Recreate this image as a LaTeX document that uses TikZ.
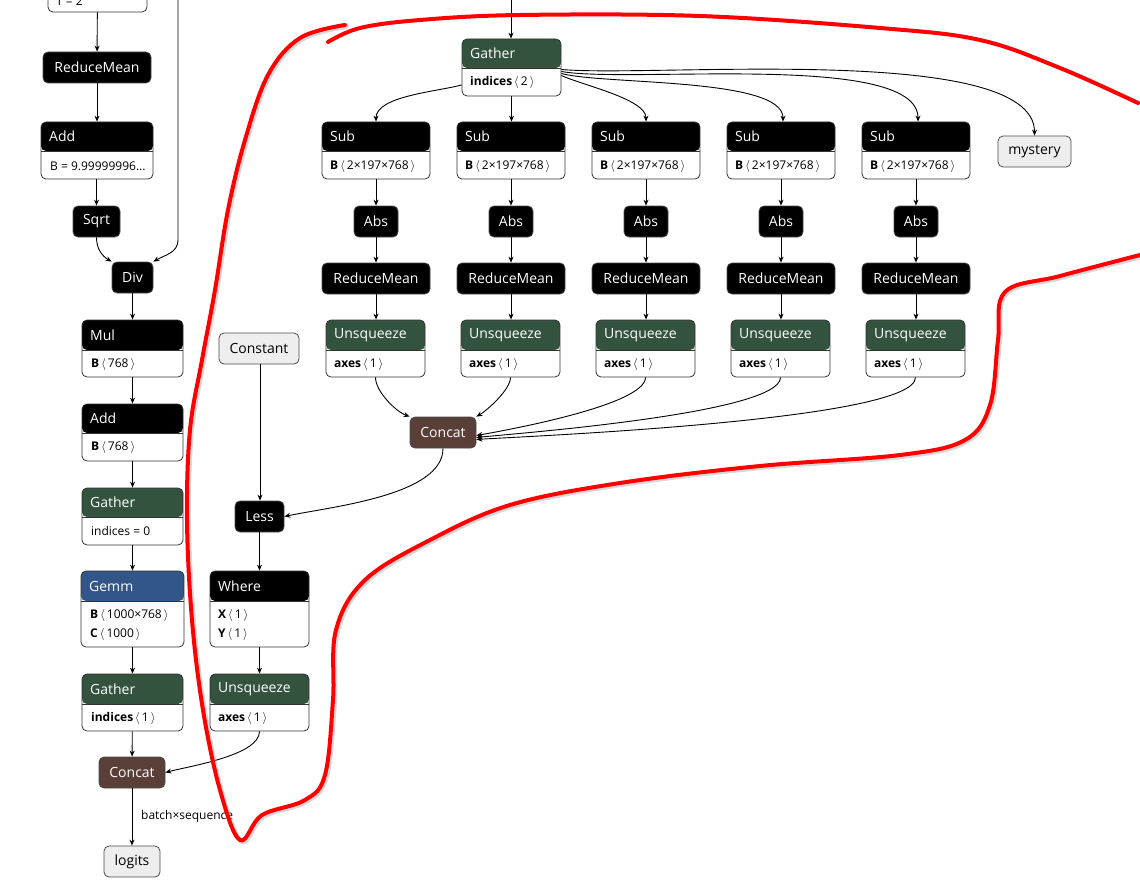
\documentclass[tikz,border=0pt]{standalone}
\usepackage{fontspec}
\setmainfont{Open Sans}
\usetikzlibrary{arrows.meta}
\definecolor{grn}{HTML}{33533F}
\definecolor{blu}{HTML}{32558A}
\definecolor{brn}{HTML}{5A3E38}
\definecolor{lgr}{HTML}{EEEEEE}
\tikzset{
 x=1pt,y=-1pt,
 e/.style={draw=black,line width=0.9pt,-{Stealth[length=6pt,width=5pt]}},
 hd/.style={draw=black!70,line width=0.8pt,rounded corners=5pt,fill=black,text=white,font=\fontsize{14}{16}\selectfont,inner sep=0pt},
 tt/.style={text=white,font=\fontsize{14}{16}\selectfont,anchor=west,inner sep=0pt},
 bt/.style={font=\fontsize{12}{14}\selectfont,anchor=west,inner sep=0pt},
}
\newcommand{\tbox}[8]{%
 \node[draw=black!80,line width=0.8pt,rounded corners=5pt,fill=white,inner sep=0pt,
   minimum width={(#4)-(#2)}, minimum height={(#5)-(#3)},
   path picture={\fill[#7] (path picture bounding box.north west) rectangle ([yshift={-((#6)-(#3))}]path picture bounding box.north east);\draw[black!80,line width=0.6pt]([yshift={-((#6)-(#3))}]path picture bounding box.north west) -- ([yshift={-((#6)-(#3))}]path picture bounding box.north east);}]
   (#1) at ({((#2)+(#4))/2},{((#3)+(#5))/2}) {};
 \node[tt] at ({(#2)+8},{((#3)+(#6))/2}) {#8};}
\newcommand{\hnode}[6]{%
 \node[hd,minimum width={(#4)-(#2)},minimum height={(#5)-(#3)}] (#1) at ({((#2)+(#4))/2},{((#3)+(#5))/2}) {#6};}
\newcommand{\gnode}[6]{%
 \node[hd,fill=lgr,text=black,draw=black!70,minimum width={(#4)-(#2)},minimum height={(#5)-(#3)}] (#1) at ({((#2)+(#4))/2},{((#3)+(#5))/2}) {#6};}
\newcommand{\ang}[1]{\,\ensuremath{\langle}\,#1\,\ensuremath{\rangle}}
\begin{document}
\begin{tikzpicture}
\useasboundingbox[fill=white] (0,0) rectangle (1140,888);
% ---- left column
\tbox{top}{48}{-40}{147}{12}{-12}{black}{}
\node[bt] at (56,1) {T = 2};
\hnode{rm0}{43}{52}{151}{83}{ReduceMean}
\tbox{add0}{41}{122}{153}{179}{151}{black}{Add}
\node[bt] at (50,166) {B = 9.99999996...};
\hnode{sqrt}{73}{206}{120}{237}{Sqrt}
\hnode{div}{112}{262}{153}{293}{Div}
\tbox{mul}{82}{320}{183}{377}{350}{black}{Mul}
\node[bt] at (91,364) {\textbf{B}\ang{768}};
\tbox{add1}{82}{404}{183}{461}{433}{black}{Add}
\node[bt] at (91,447) {\textbf{B}\ang{768}};
\tbox{gat0}{82}{488}{183}{545}{517}{grn}{Gather}
\node[bt] at (91,531) {indices = 0};
\tbox{gemm}{81}{571}{184}{647}{601}{blu}{Gemm}
\node[bt] at (90,615) {\textbf{B}\ang{1000×768}};
\node[bt] at (90,634) {\textbf{C}\ang{1000}};
\tbox{gat1}{82}{674}{183}{731}{704}{grn}{Gather}
\node[bt] at (91,718) {\textbf{indices}\ang{1}};
\node[hd,fill=brn,minimum width=66,minimum height=31] (cc0) at (132,772.5) {Concat};
\gnode{logits}{104}{846}{160}{877}{logits}
\node[bt] at (141,816) {batch×sequence};
\draw[e] (top) -- (rm0);
\draw[e] (rm0) -- (add0);
\draw[e] (add0.south -| sqrt) -- (sqrt);
\draw[e] (sqrt.south) to[out=-90,in=150] (div.north west);
\coordinate (vtop) at (178,-5);
\draw[e] (vtop) -- (178,240) to[out=-90,in=30] (div.north east);
\draw[e] (div.south) -- (div.south |- mul.north);
\draw[e] (mul.south -| div) -- (add1.north -| div);
\draw[e] (add1) -- (gat0);
\draw[e] (gat0) -- (gemm);
\draw[e] (gemm) -- (gat1);
\draw[e] (gat1) -- (cc0);
\draw[e] (cc0) -- (logits);
% ---- middle
\gnode{const}{219}{333}{299}{364}{Constant}
\hnode{less}{235}{501}{284}{532}{Less}
\tbox{where}{210}{571}{309}{647}{601}{black}{Where}
\node[bt] at (218,615) {\textbf{X}\ang{1}};
\node[bt] at (218,634) {\textbf{Y}\ang{1}};
\tbox{unsq0}{210}{674}{309}{731}{704}{grn}{Unsqueeze}
\node[bt] at (218,718) {\textbf{axes}\ang{1}};
\draw[e] (const.south -| 260,0) -- (less.north -| 260,0);
\draw[e] (less) -- (where);
\draw[e] (where) -- (unsq0);
\draw[e] (unsq0.south) to[out=-90,in=15,looseness=0.6] (cc0.east);
% ---- right
\tbox{gat2}{462}{39}{561}{96}{68}{grn}{Gather}
\node[bt] at (470,82) {\textbf{indices}\ang{2}};
\coordinate (gtop) at (511,-5);
\draw[e] (gtop) -- (gat2.north -| gtop);
\node[hd,fill=brn,minimum width=66,minimum height=31] (cc1) at (443,432.5) {Concat};
\gnode{myst}{998}{136}{1071}{167}{mystery}
\foreach \i/\x in {1/322,2/457,3/592,4/727,5/862}{
 \pgfmathsetmacro{\xr}{\x+108}
 \pgfmathsetmacro{\xc}{\x+54}
 \tbox{sub\i}{\x}{122}{\xr}{179}{151}{black}{Sub}
 \node[bt] at (\x+8,166) {\textbf{B}\ang{2×197×768}};
 \hnode{abs\i}{\xc-22}{206}{\xc+22}{237}{Abs}
 \hnode{rm\i}{\x}{263}{\xr}{294}{ReduceMean}
 \tbox{un\i}{\x+4}{320}{\x+103}{377}{350}{grn}{Unsqueeze}
 \node[bt] at (\x+12,364) {\textbf{axes}\ang{1}};
 \draw[e] (sub\i.south -| abs\i) -- (abs\i);
 \draw[e] (abs\i) -- (rm\i.north -| abs\i);
 \draw[e] (rm\i.south -| abs\i) -- (un\i.north -| abs\i);
}
\draw[e] ([yshift=-2]gat2.west |- 0,83) to[out=195,in=90,looseness=0.7] (sub1.north);
\draw[e] (gat2.south) -- (sub2.north -| gat2.south);
\draw[e] ([yshift=-8]gat2.east) to[out=-25,in=90,looseness=0.6] (sub3.north);
\draw[e] ([yshift=-6]gat2.east) to[out=-15,in=90,looseness=0.5] ([xshift=2]sub4.north);
\draw[e] ([yshift=-4]gat2.east) to[out=-10,in=90,looseness=0.5] ([xshift=2]sub5.north);
\draw[e] ([yshift=-2]gat2.east) to[out=-5,in=90,looseness=0.5] (myst.north);
\draw[e] (un1.south) to[out=-90,in=160,looseness=0.7] (cc1.north west);
\draw[e] (un2.south) to[out=-90,in=30,looseness=0.6] (cc1.north east);
\draw[e] (un3.south) to[out=-90,in=10,looseness=0.4] ([yshift=-3]cc1.east);
\draw[e] (un4.south) to[out=-90,in=6,looseness=0.3] ([yshift=-5]cc1.east);
\draw[e] (un5.south) to[out=-90,in=4,looseness=0.25] ([yshift=-7]cc1.east);
\draw[e] (cc1.south) to[out=-90,in=12,looseness=0.7] (less.east);
% ---- red outline
\begin{scope}[line width=4pt,red,line cap=round,line join=round]
\draw[black!30,line width=5pt,xshift=1.5,yshift=-1.5,opacity=0.5] plot[smooth,tension=0.6] coordinates {(345,25)(300,38)(268,75)(245,140)(228,210)(215,290)(202,360)(190,430)(187,520)(192,620)(203,710)(220,790)(240,840)(262,815)(305,800)(325,775)(333,700)(336,630)(365,580)(430,540)(510,505)(620,483)(760,466)(900,455)(965,440)(990,405)(998,340)(1005,292)(1060,276)(1140,255)};
\draw plot[smooth,tension=0.6] coordinates {(345,25)(300,38)(268,75)(245,140)(228,210)(215,290)(202,360)(190,430)(187,520)(192,620)(203,710)(220,790)(240,840)(262,815)(305,800)(325,775)(333,700)(336,630)(365,580)(430,540)(510,505)(620,483)(760,466)(900,455)(965,440)(990,405)(998,340)(1005,292)(1060,276)(1140,255)};
\draw plot[smooth,tension=0.6] coordinates {(328,42)(360,28)(420,20)(520,15)(700,16)(880,28)(980,40)(1060,68)(1138,103)};
\end{scope}
\end{tikzpicture}
\end{document}
